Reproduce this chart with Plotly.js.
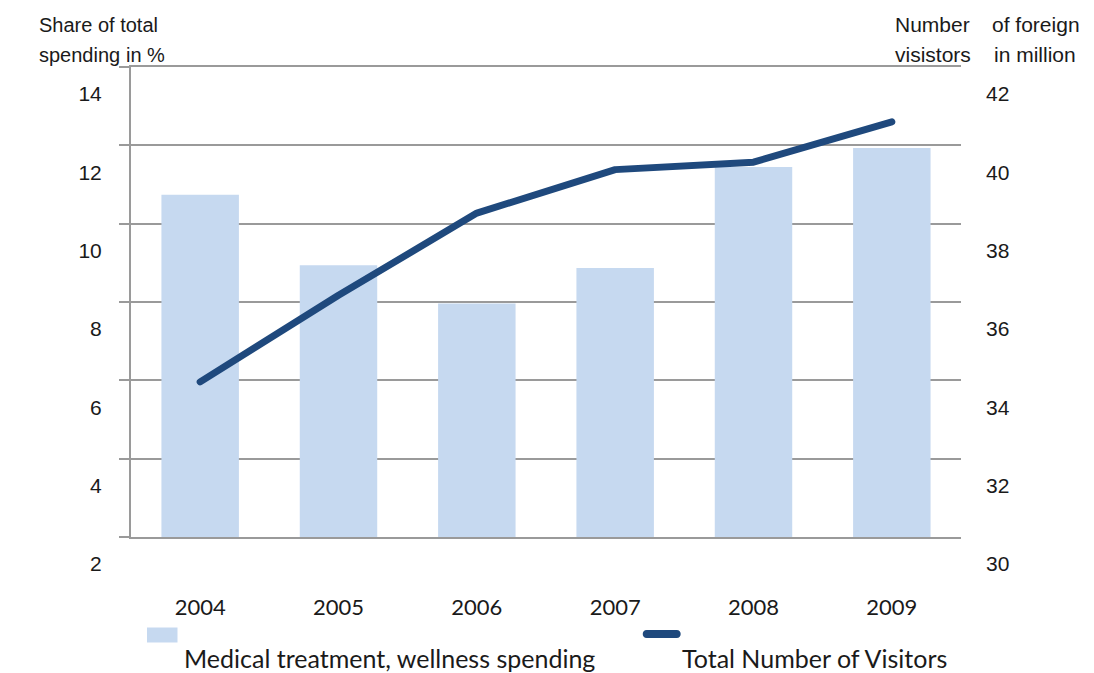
<!DOCTYPE html>
<html>
<head>
<meta charset="utf-8">
<script src="https://cdn.plot.ly/plotly-3.0.1.min.js"></script>
<style>
  html, body { margin: 0; padding: 0; background: #fff; }
  #chart { width: 1094px; height: 673px; }
</style>
</head>
<body>
<div id="chart"></div>
<script>
// ---- data ----
const years = ['2004', '2005', '2006', '2007', '2008', '2009'];
const spendingShare = [10.74, 8.94, 7.96, 8.87, 11.45, 11.93];   // % (left axis)
const visitorsMillion = [33.96, 36.17, 38.27, 39.38, 39.57, 40.60]; // million (right axis)
const leftTicks = [2, 4, 6, 8, 10, 12, 14];
const rightTicks = [30, 32, 34, 36, 38, 40, 42];
const barName = 'Medical treatment, wellness spending';
const lineName = 'Total Number of Visitors';
// axis titles, as word groups (text, left px, centre px, font size)
const leftTitle = [['Share of total', 37, 25, 20], ['spending', 37, 55, 20], ['in %', 124, 55, 20]];
const rightTitle = [['Number', 893, 25, 21], ['of foreign', 990, 25, 21], ['visistors', 893, 55, 21], ['in million', 992, 55, 21]];

// ---- styling ----
const W = 1094, H = 673;
const M = { l: 131, r: 133, t: 67, b: 136 };
const PW = W - M.l - M.r, PH = H - M.t - M.b;
const px2x = px => (px - M.l) / PW;
const px2y = py => (H - M.b - py) / PH;

const barColor = '#c6d9f0';
const lineColor = '#1f497d';
const gridColor = '#9a9a9a';
const textColor = '#1a1a1a';
const arial = 'Liberation Sans, Arial, sans-serif';
const calibri = 'Lato, Carlito, Calibri, sans-serif';

const traces = [
  {
    type: 'bar', x: years, y: spendingShare, name: barName,
    marker: { color: barColor }, width: 0.56, yaxis: 'y', hoverinfo: 'x+y'
  },
  {
    type: 'scatter', mode: 'lines', x: years, y: visitorsMillion, name: lineName,
    line: { color: lineColor, width: 7 }, yaxis: 'y2', hoverinfo: 'x+y'
  }
];

const titleAnn = leftTitle.concat(rightTitle).map(([t, x, y, s]) => ({
  text: t, x: px2x(x), y: px2y(y),
  xref: 'paper', yref: 'paper', xanchor: 'left', yanchor: 'middle',
  showarrow: false, font: { family: arial, size: s, color: textColor }
}));
const legendAnn = [[barName, 182], [lineName, 680]].map(([t, x]) => ({
  text: t, x: px2x(x), y: px2y(658),
  xref: 'paper', yref: 'paper', xanchor: 'left', yanchor: 'middle',
  showarrow: false, font: { family: calibri, size: 25, color: textColor }
}));

const layout = {
  width: W, height: H,
  margin: M,
  paper_bgcolor: '#fff', plot_bgcolor: '#fff',
  showlegend: false,
  xaxis: {
    type: 'category', range: [-0.5, 5.5],
    showline: true, linecolor: gridColor, linewidth: 2, mirror: true,
    showgrid: false, ticks: '', zeroline: false,
    tickfont: { family: calibri, size: 22, color: textColor },
    ticklabelstandoff: 50
  },
  yaxis: {
    range: [2, 14], tickvals: leftTicks, ticktext: leftTicks.map(String),
    showgrid: true, gridcolor: gridColor, gridwidth: 2,
    ticks: 'outside', ticklen: 10, tickwidth: 2, tickcolor: gridColor,
    showline: true, linecolor: gridColor, linewidth: 2, zeroline: false,
    tickfont: { family: arial, size: 21, color: textColor },
    ticklabelshift: 27, ticklabelstandoff: 13
  },
  yaxis2: {
    overlaying: 'y', side: 'right', range: [30, 42],
    tickvals: rightTicks, ticktext: rightTicks.map(String),
    showgrid: false, showline: false, ticks: '', zeroline: false,
    tickfont: { family: arial, size: 21, color: textColor },
    ticklabelshift: 27, ticklabelstandoff: 24
  },
  annotations: titleAnn.concat(legendAnn),
  shapes: [
    { type: 'rect', xref: 'paper', yref: 'paper',
      x0: px2x(147), x1: px2x(177.5), y0: px2y(627.5), y1: px2y(642.5),
      fillcolor: barColor, line: { width: 0 } },
    { type: 'path', xref: 'paper', yref: 'paper',
      xsizemode: 'pixel', ysizemode: 'pixel',
      xanchor: px2x(661.7), yanchor: px2y(634),
      path: 'M -15,-4 L 15,-4 C 20.3,-4 20.3,4 15,4 L -15,4 C -20.3,4 -20.3,-4 -15,-4 Z',
      fillcolor: lineColor, line: { width: 0 } }
  ]
};

Plotly.newPlot('chart', traces, layout, { displayModeBar: false, staticPlot: true }).then(() => {
  document.querySelectorAll('.scatterlayer .js-line').forEach(p => {
    p.style.strokeLinecap = 'round';
    p.style.strokeLinejoin = 'round';
  });
});
</script>
</body>
</html>
